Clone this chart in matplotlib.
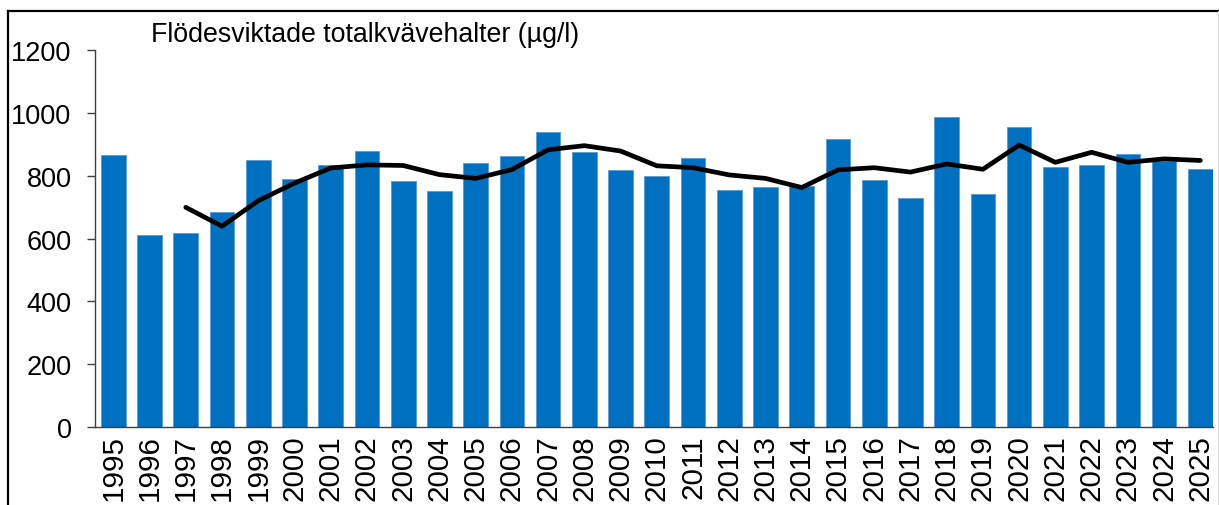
import matplotlib
matplotlib.use("Agg")
import matplotlib.pyplot as plt
from matplotlib.lines import Line2D
import numpy as np

plt.rcParams['font.family'] = ['Liberation Sans', 'DejaVu Sans']

years = [str(y) for y in range(1995, 2026)]
halter = [866, 611, 617, 685, 848, 789, 834, 878, 782, 751, 839, 863, 939, 874,
          818, 800, 855, 754, 763, 766, 915, 785, 730, 987, 740, 955, 827, 833,
          870, 847, 820]
# 3-year mean, first value in 1997
medel_start = 2
medel = [699, 639, 720, 776, 824, 834, 832, 803, 791, 819, 882, 895, 878, 831,
         825, 802, 791, 762, 818, 825, 811, 837, 820, 897, 842, 874, 842, 853,
         848]
yticks = [0, 200, 400, 600, 800, 1000, 1200]

W, H = 1219, 506
fig = plt.figure(figsize=(W / 100, H / 100), dpi=100)
ax = fig.add_axes([95.2 / W, (H - 428.3) / H, (1213 - 95.2) / W, (428.3 - 50.7) / H])

x = np.arange(len(years))
ax.bar(x, halter, width=0.68, color='#0070C0', edgecolor='#5B9BD5', linewidth=0.6, zorder=2)
xm = np.arange(medel_start, medel_start + len(medel))
ax.plot(xm, medel, color='black', linewidth=3.4, solid_capstyle='round',
        solid_joinstyle='round', zorder=3)

ax.set_xlim(-0.5, 30.35)
ax.set_ylim(0, 1200)
ax.set_yticks(yticks)
ax.set_xticks(x)
ax.set_xticklabels(years, rotation=90, fontsize=21.3)
ax.tick_params(axis='x', length=0, pad=5)
ax.tick_params(axis='y', direction='out', length=6, width=1, color='#404040',
               labelsize=19.5, pad=11)

for side in ['top', 'right']:
    ax.spines[side].set_visible(False)
for side in ['left', 'bottom']:
    ax.spines[side].set_color('#404040')
    ax.spines[side].set_linewidth(1)

fig.text(151 / W, (H - 42.3) / H, 'Flödesviktade totalkvävehalter (µg/l)',
         fontsize=19.3, va='baseline', ha='left')

# outer frame
fig.add_artist(Line2D([7.5 / W, 1218 / W], [(H - 12) / H, (H - 12) / H],
                      color='black', linewidth=1.6))
fig.add_artist(Line2D([7.5 / W, 7.5 / W], [0, (H - 12) / H],
                      color='black', linewidth=1.6))
fig.add_artist(Line2D([1218 / W, 1218 / W], [0, (H - 12) / H],
                      color='#d9d9d9', linewidth=0.8))

fig.savefig('out.png', dpi=100)
